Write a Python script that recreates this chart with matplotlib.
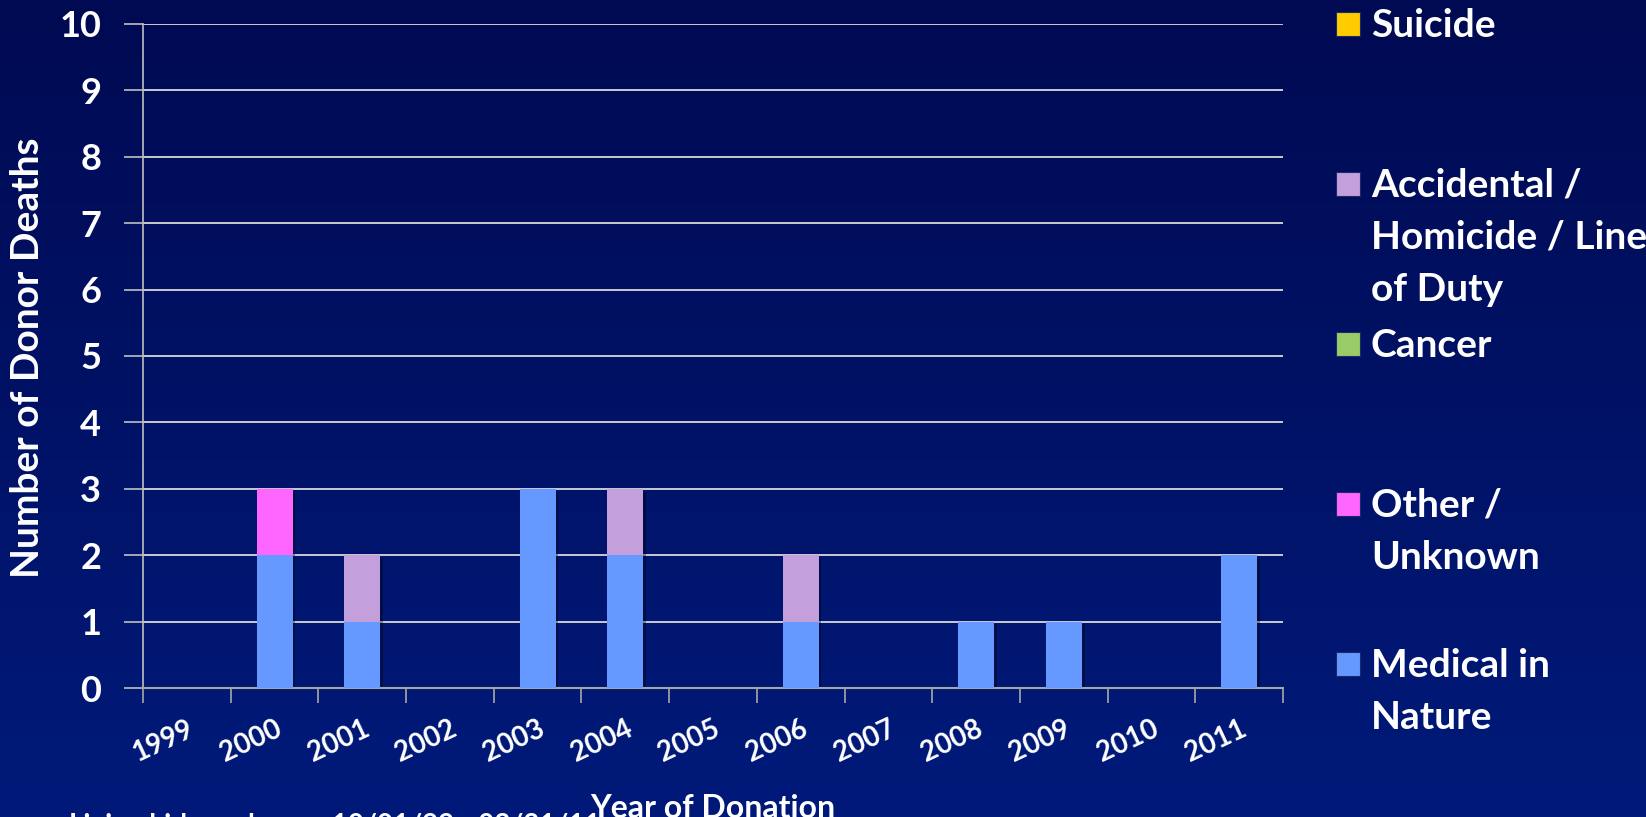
import matplotlib
matplotlib.use("Agg")
import matplotlib.pyplot as plt
import matplotlib.patheffects as pe
from matplotlib.patches import Rectangle
import numpy as np

plt.rcParams['font.family'] = ['Lato', 'DejaVu Sans']
plt.rcParams['font.weight'] = 'bold'

years = ['1999', '2000', '2001', '2002', '2003', '2004', '2005',
         '2006', '2007', '2008', '2009', '2010', '2011']
medical = [0, 2, 1, 0, 3, 2, 0, 1, 0, 1, 1, 0, 2]
other = [0, 1, 0, 0, 0, 0, 0, 0, 0, 0, 0, 0, 0]
accidental = [0, 0, 1, 0, 0, 1, 0, 1, 0, 0, 0, 0, 0]
cancer = [0] * 13
suicide = [0] * 13

series = [medical, other, accidental, cancer, suicide]
colors = ['#6699FF', '#FF66FF', '#C3A0DC', '#99CC66', '#FFCC00']

# legend as drawn in the slide (top to bottom)
leg_labels = ['Suicide', 'Accidental /\nHomicide / Line\nof Duty', 'Cancer',
              'Other /\nUnknown', 'Medical in\nNature']
leg_colors = ['#FFCC00', '#C3A0DC', '#99CC66', '#FF66FF', '#6699FF']

W, H = 1646, 817
fig = plt.figure(figsize=(W / 100, H / 100), dpi=100)

# gradient background
bg = fig.add_axes([0, 0, 1, 1], zorder=-5)
top = np.array([0, 10, 82]) / 255
bot = np.array([0, 26, 122]) / 255
t = np.linspace(0, 1, 256)[:, None]
grad = top + (bot - top) * t
bg.imshow(grad[:, None, :].repeat(2, axis=1), aspect='auto', extent=[0, 1, 0, 1])
bg.axis('off')

ax = fig.add_axes([143 / W, 1 - 688 / H, 1140 / W, 664 / H])
ax.patch.set_alpha(0)

x = np.arange(len(years))
totals = np.sum(series, axis=0)
# soft drop shadow behind each stack
sh = ax.bar(x, totals, 0.41, color='none', zorder=2)
for b in sh:
    b.set_path_effects([pe.SimplePatchShadow(offset=(2, -2), shadow_rgbFace='black', alpha=0.35)])

bottom = np.zeros(len(years))
for vals, c in zip(series, colors):
    ax.bar(x, vals, 0.41, bottom=bottom, color=c, zorder=3)
    bottom += np.array(vals)

ax.set_xlim(-0.5, len(years) - 0.5)
ax.set_ylim(0, 10)
ax.set_yticks(range(0, 11))
ax.tick_params(axis='y', labelsize=26, labelcolor='white', color='#BFBFBF',
               length=14, width=1.2, pad=16)
ax.yaxis.grid(True, color='#D9D9D9', lw=1.3, zorder=1)
ax.set_axisbelow(True)

ax.set_xticks(np.arange(-0.5, len(years)), labels=[''] * (len(years) + 1))
ax.tick_params(axis='x', which='major', color='#A6A6A6', length=11, width=1.2)
ax.set_xticks(x, labels=years, minor=True)
ax.tick_params(axis='x', which='minor', length=0, pad=20, labelsize=20, labelcolor='white')
for lab in ax.get_xticklabels(minor=True):
    lab.set_rotation(25)
    lab.set_ha('right')
    lab.set_rotation_mode('anchor')

for s in ['top', 'right']:
    ax.spines[s].set_visible(False)
ax.spines['left'].set_color('#BFBFBF')
ax.spines['bottom'].set_color('#A6A6A6')
ax.spines['left'].set_linewidth(1.2)
ax.spines['bottom'].set_linewidth(1.5)

fig.text(28 / W, 1 - 358 / H, 'Number of Donor Deaths', rotation=90, color='white',
         fontsize=28, ha='center', va='center')
fig.text(713 / W, 1 - 818 / H, 'Year of Donation', color='white', fontsize=23,
         ha='center', va='baseline')
fig.text(69 / W, 1 - 834 / H, 'Living kidney donors 10/01/99 - 03/31/11', color='white',
         fontsize=20, ha='left', va='baseline')

# legend
base0 = 37
for i, (lab, c) in enumerate(zip(leg_labels, leg_colors)):
    base = base0 + 160 * i
    fig.patches.append(Rectangle((1336 / W, 1 - (base - 1) / H), 24 / W, 24 / H,
                                 transform=fig.transFigure, facecolor=c,
                                 edgecolor='#1a2a6a', lw=0.8))
    for j, line in enumerate(lab.split('\n')):
        fig.text(1371 / W, 1 - (base + 52 * j) / H, line, color='white', fontsize=28,
                 ha='left', va='baseline')

fig.savefig('out.png', dpi=100)
